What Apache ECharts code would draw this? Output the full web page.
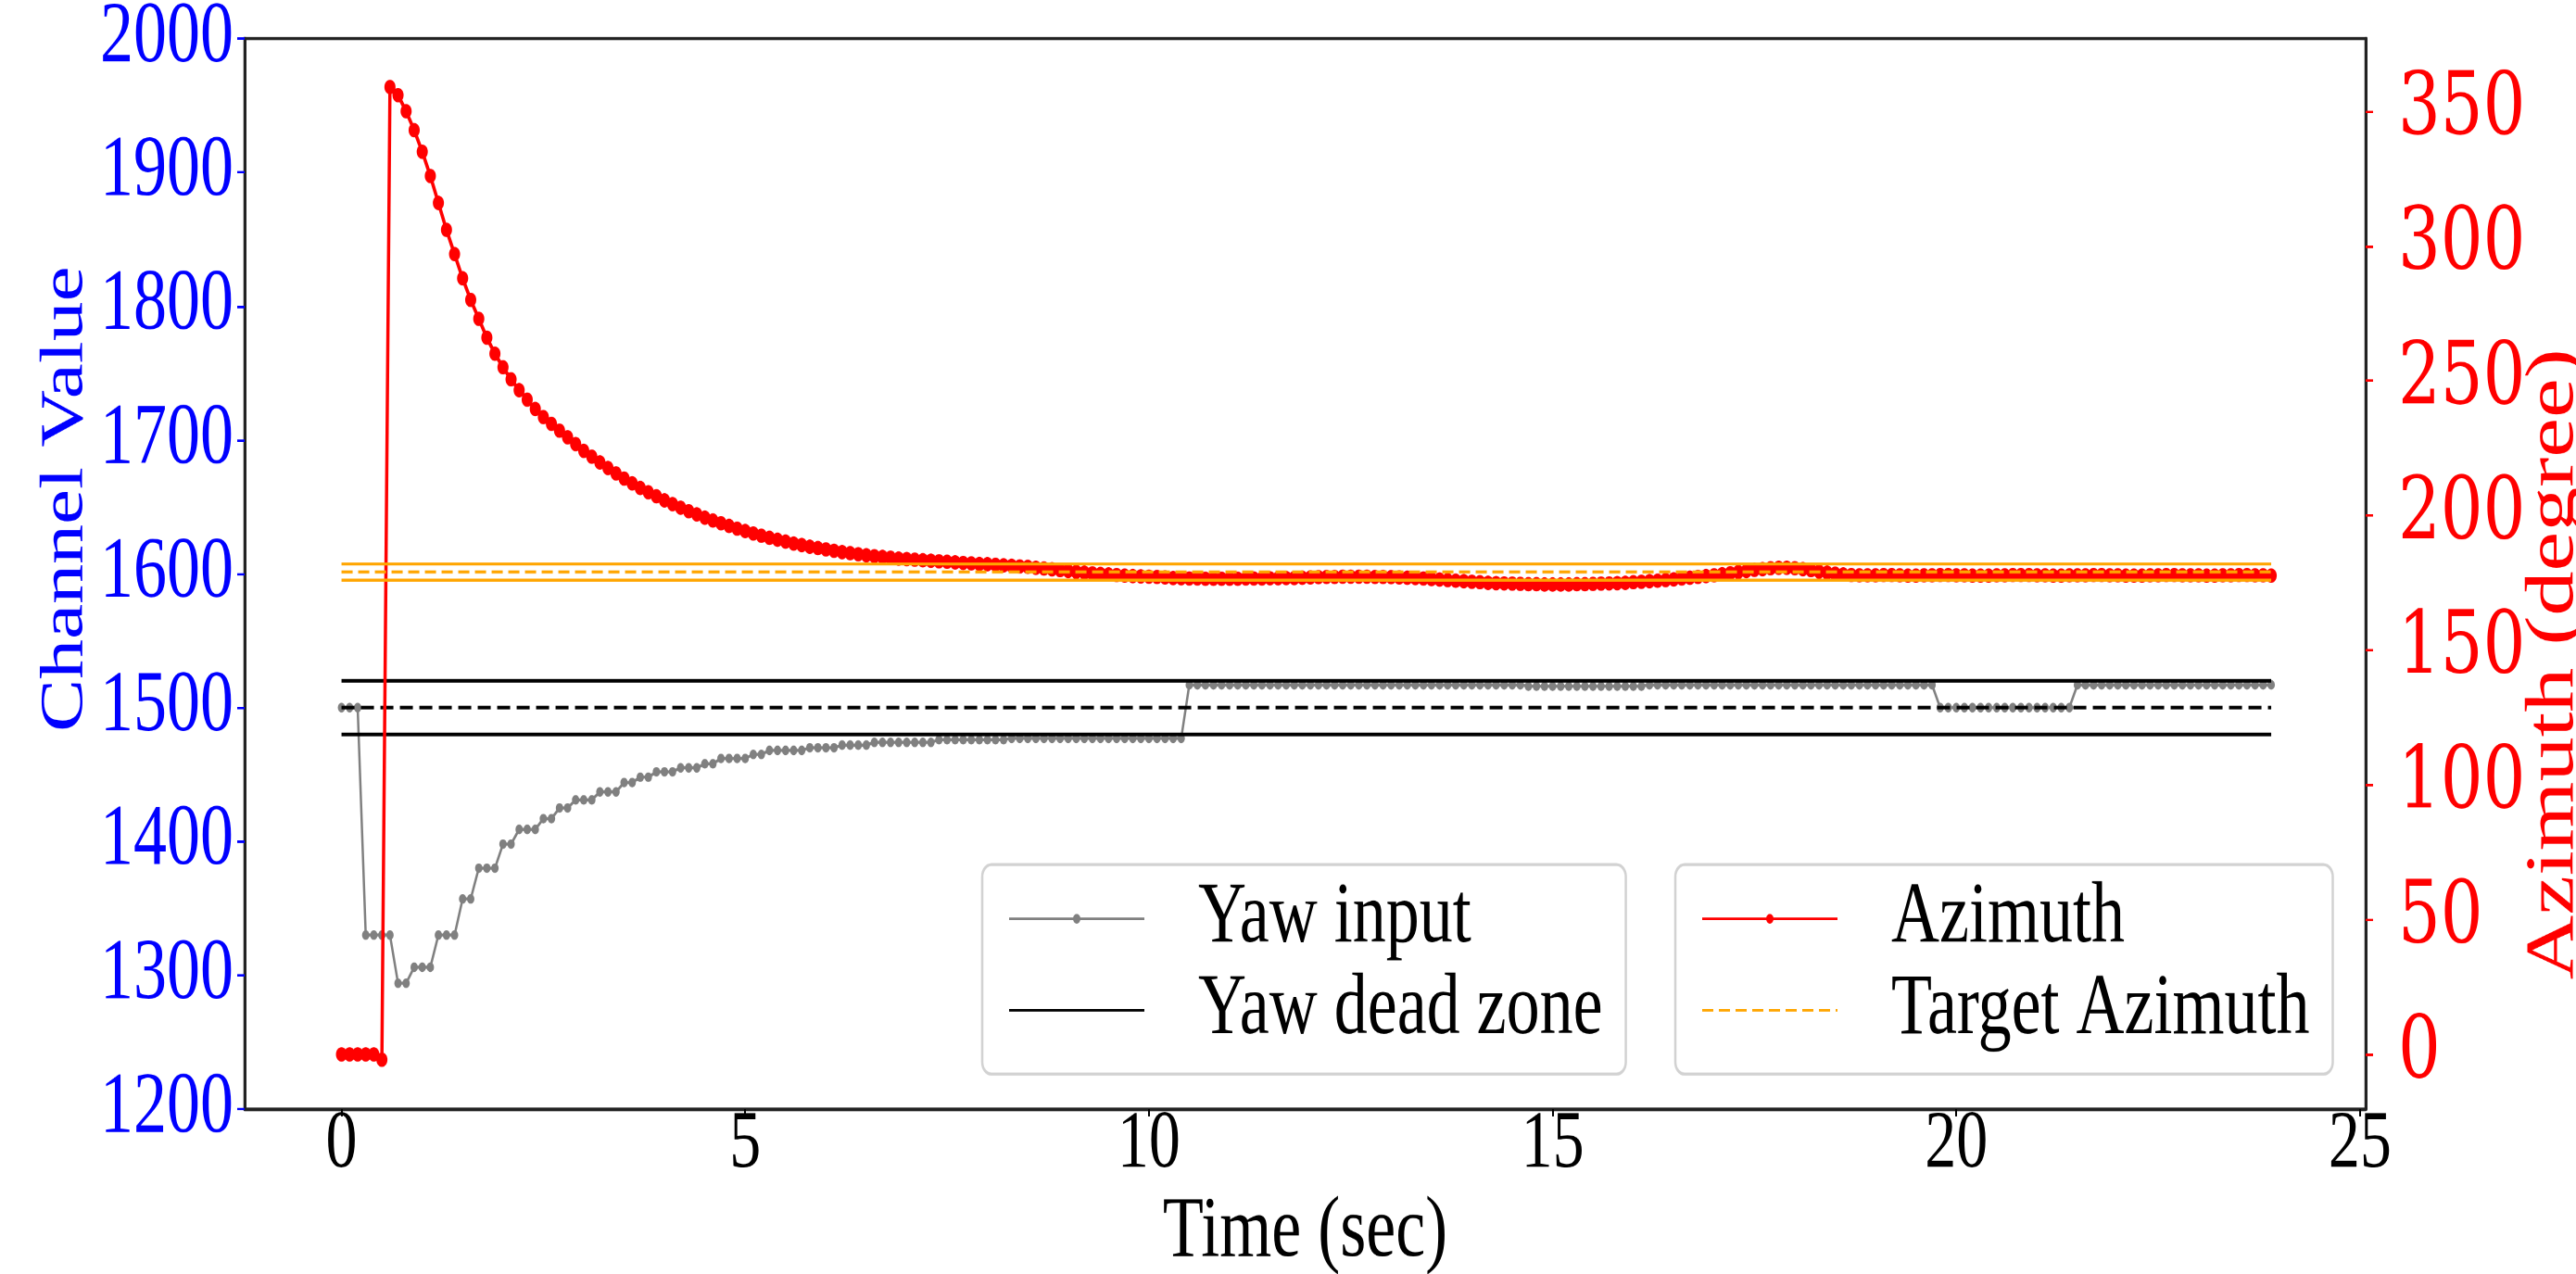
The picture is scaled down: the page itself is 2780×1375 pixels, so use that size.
<!DOCTYPE html>
<html>
<head>
<meta charset="utf-8">
<title>Yaw input and azimuth</title>
<script src="https://cdn.jsdelivr.net/npm/echarts@6/dist/echarts.min.js"></script>
<style>
  html, body { margin: 0; padding: 0; background: #fff; width: 2780px; height: 1375px; overflow: hidden; }
  /* the source figure is stretched vertically, so the chart is drawn
     at a lower height and scaled up in y only */
  #chart { width: 2780px; height: 1058px; transform-origin: 0 0; transform: scale(1, 1.29962); }
</style>
</head>
<body>
<div id="chart"></div>
<script>
// logged at 10 Hz, one sample per 0.1 s
const SAMPLE_DT = 0.1

// yaw stick input (channel value)
const yawInput = [
  1500,1500,1500,1330,1330,1330,1330,1294,1294,1306,
  1306,1306,1330,1330,1330,1357,1357,1380,1380,1380,
  1398,1398,1409,1409,1409,1417,1417,1425,1425,1431,
  1431,1431,1437,1437,1437,1444,1444,1448,1448,1452,
  1452,1452,1455,1455,1455,1458,1458,1462,1462,1462,
  1462,1465,1465,1468,1468,1468,1468,1468,1470,1470,
  1470,1470,1472,1472,1472,1472,1474,1474,1474,1474,
  1474,1474,1474,1474,1476,1476,1476,1476,1476,1476,
  1476,1476,1476,1477,1477,1477,1477,1477,1477,1477,
  1477,1477,1477,1477,1477,1477,1477,1477,1477,1477,
  1477,1477,1477,1477,1477,1517,1517,1517,1517,1517,
  1517,1517,1517,1517,1517,1517,1517,1517,1517,1517,
  1517,1517,1517,1517,1517,1517,1517,1517,1517,1517,
  1517,1517,1517,1517,1517,1517,1517,1517,1517,1517,
  1517,1517,1517,1517,1517,1517,1517,1516,1516,1516,
  1516,1516,1516,1516,1516,1516,1516,1516,1516,1516,
  1516,1516,1517,1517,1517,1517,1517,1517,1517,1517,
  1517,1517,1517,1517,1517,1517,1517,1517,1517,1517,
  1517,1517,1517,1517,1517,1517,1517,1517,1517,1517,
  1517,1517,1517,1517,1517,1517,1517,1517,1500,1500,
  1500,1500,1500,1500,1500,1500,1500,1500,1500,1500,
  1500,1500,1500,1500,1500,1517,1517,1517,1517,1517,
  1517,1517,1517,1517,1517,1517,1517,1517,1517,1517,
  1517,1517,1517,1517,1517,1517,1517,1517,1517,1517
]

// measured azimuth (degree)
const azimuth = [
  0,0,0,0,0,-2,359,356,350,343,
  335,326,316,306,297,288,280,273,266,260,
  255,250.5,246.5,243,239.5,236.5,234,231.5,229,226.5,
  224,221.8,219.7,217.6,215.6,213.7,211.9,210.2,208.6,207.1,
  205.6,204.2,202.9,201.6,200.4,199.2,198.1,197.1,196.1,195.1,
  194.2,193.3,192.5,191.7,191,190.3,189.6,189,188.4,187.9,
  187.4,186.9,186.4,186,185.6,185.2,184.9,184.6,184.3,184,
  183.8,183.6,183.4,183.2,183,182.8,182.6,182.4,182.2,182,
  181.9,181.7,181.5,181.3,181.1,180.9,180.6,180.3,180,179.7,
  179.4,179.1,178.8,178.5,178.3,178.1,177.9,177.7,177.5,177.4,
  177.3,177.2,177.0,176.8,176.7,176.6,176.6,176.5,176.5,176.5,
  176.5,176.5,176.6,176.6,176.6,176.7,176.7,176.8,176.8,176.9,
  177.0,177.1,177.2,177.2,177.3,177.3,177.3,177.3,177.2,177.2,
  177.1,177.0,176.9,176.8,176.6,176.4,176.2,176.0,175.8,175.6,
  175.4,175.2,175.0,174.9,174.8,174.7,174.6,174.5,174.5,174.4,
  174.4,174.4,174.4,174.5,174.5,174.6,174.7,174.8,174.9,175.0,
  175.2,175.4,175.6,175.8,176.0,176.3,176.6,176.9,177.2,177.5,
  177.8,178.2,178.6,179.0,179.4,179.8,180.1,180.4,180.6,180.6,
  180.4,180.1,179.7,179.2,178.8,178.4,178.1,177.9,177.8,177.8,
  177.8,177.9,177.9,177.8,177.7,177.7,177.8,177.8,177.9,177.9,
  177.8,177.8,177.7,177.7,177.7,177.8,177.8,177.9,177.9,177.9,
  177.8,177.8,177.7,177.7,177.8,177.8,177.8,177.9,177.9,177.8,
  177.8,177.7,177.7,177.7,177.8,177.8,177.9,177.9,177.8,177.8,
  177.8,177.7,177.7,177.8,177.8,177.9,177.9,177.8,177.8,177.7
]

const time = yawInput.map((v, i) => +(i * SAMPLE_DT).toFixed(1))

// dead zone around neutral stick, and target azimuth with its band
const deadZone = [1480, 1520]
const neutral = 1500
const targetAzimuth = 179
const targetBand = [176, 182]

const xTicks = [0, 5, 10, 15, 20, 25]
const azTicks = [0, 50, 100, 150, 200, 250, 300, 350]

const SERIF = 'Liberation Serif'
const FS = 72

const tStart = time[0]
const tEnd = time[time.length - 1]
const flat = (v) => [[tStart, v], [tEnd, v]]
const pair = (arr) => arr.map((v, i) => [time[i], v])

const chart = echarts.init(document.getElementById('chart'), null, { devicePixelRatio: 2 })

const legendBox = {
  orient: 'vertical',
  top: 718,
  padding: [9, 25, 17, 28],
  itemGap: 4,
  itemWidth: 146,
  itemHeight: 10,
  backgroundColor: '#fff',
  borderColor: '#d2d2d2',
  borderWidth: 2.5,
  borderRadius: 10,
  textStyle: { fontFamily: SERIF, fontSize: FS, color: '#000', padding: [0, 0, 0, 53] }
}
// plain lines in the legend, no dot in the middle
const noDot = { color: 'rgba(0,0,0,0)', borderWidth: 0 }

const option = {
  animation: false,
  backgroundColor: '#fff',
  grid: {
    left: 264, right: 227, top: 32, bottom: 137,
    show: true, borderColor: '#222', borderWidth: 2.5,
    outerBoundsMode: 'none'
  },
  legend: [
    Object.assign({}, legendBox, {
      left: 1060,
      data: ['Yaw input', { name: 'Yaw dead zone', itemStyle: noDot }]
    }),
    Object.assign({}, legendBox, {
      left: 1808,
      data: ['Azimuth', { name: 'Target Azimuth', itemStyle: noDot }]
    })
  ],
  xAxis: {
    type: 'value',
    min: -1.2,
    max: 25.07,
    name: 'Time (sec)',
    nameLocation: 'middle',
    nameGap: 67,
    nameMoveOverlap: false,
    nameTextStyle: { fontFamily: SERIF, fontSize: FS, color: '#000' },
    axisLine: { onZero: false, lineStyle: { color: '#222', width: 2.5 } },
    axisTick: { length: 6, lineStyle: { color: '#000', width: 2 }, customValues: xTicks },
    axisLabel: { customValues: xTicks, fontFamily: SERIF, fontSize: 68, color: '#000', margin: -4 },
    splitLine: { show: false }
  },
  yAxis: [
    {
      type: 'value',
      position: 'left',
      min: 1200,
      max: 2000,
      interval: 100,
      name: 'Channel Value',
      nameLocation: 'middle',
      nameRotate: 90,
      nameGap: 160,
      nameMoveOverlap: false,
      nameTextStyle: { fontFamily: SERIF, fontSize: 66, color: '#0000ff', padding: [0, 0, 0, 124] },
      axisLine: { show: true, onZero: false, lineStyle: { color: '#222', width: 3 } },
      axisTick: { show: true, length: 8, lineStyle: { color: '#0000ff', width: 2 } },
      axisLabel: {
        fontFamily: SERIF, fontSize: FS, color: '#0000ff', margin: 12,
        formatter: (v) => String(v)
      },
      splitLine: { show: false }
    },
    {
      type: 'value',
      position: 'right',
      min: -20.3,
      max: 377,
      name: 'Azimuth (degree)',
      nameLocation: 'middle',
      nameRotate: 90,
      nameGap: 167,
      nameMoveOverlap: false,
      nameTextStyle: { fontFamily: SERIF, fontSize: 74, color: '#ff0000', padding: [0, 150, 0, 0] },
      axisLine: { show: true, onZero: false, lineStyle: { color: '#222', width: 3 } },
      axisTick: { show: true, length: 8, lineStyle: { color: '#ff0000', width: 2 }, customValues: azTicks },
      axisLabel: {
        customValues: azTicks, fontFamily: 'DejaVu Serif', fontSize: FS, color: '#ff0000', margin: 35,
        formatter: (v) => String(v)
      },
      splitLine: { show: false }
    }
  ],
  series: [
    {
      name: 'Yaw input', type: 'line', yAxisIndex: 0,
      data: pair(yawInput),
      color: '#808080',
      lineStyle: { width: 2.5 },
      symbol: 'circle', symbolSize: 8, showSymbol: true, z: 2
    },
    {
      name: 'Yaw dead zone', type: 'line', yAxisIndex: 0,
      data: flat(deadZone[1]), color: '#000',
      lineStyle: { width: 3 }, symbol: 'none', z: 3
    },
    {
      name: 'Yaw dead zone', type: 'line', yAxisIndex: 0,
      data: flat(deadZone[0]), color: '#000',
      lineStyle: { width: 3 }, symbol: 'none', z: 3
    },
    {
      name: 'Yaw dead zone', type: 'line', yAxisIndex: 0,
      data: flat(neutral), color: '#000',
      lineStyle: { width: 3, type: [14, 7] }, symbol: 'none', z: 3
    },
    {
      name: 'Azimuth', type: 'line', yAxisIndex: 1,
      data: pair(azimuth),
      color: '#ff0000',
      lineStyle: { width: 3.5 },
      symbol: 'circle', symbolSize: 12, showSymbol: true, z: 4
    },
    {
      name: 'Target Azimuth', type: 'line', yAxisIndex: 1,
      data: flat(targetAzimuth), color: '#ffa500',
      lineStyle: { width: 2.5, type: [12, 6] }, symbol: 'none', z: 5
    },
    {
      name: 'Target Azimuth', type: 'line', yAxisIndex: 1,
      data: flat(targetBand[1]), color: '#ffa500',
      lineStyle: { width: 2.5 }, symbol: 'none', z: 5
    },
    {
      name: 'Target Azimuth', type: 'line', yAxisIndex: 1,
      data: flat(targetBand[0]), color: '#ffa500',
      lineStyle: { width: 2.5 }, symbol: 'none', z: 5
    }
  ]
}

chart.setOption(option)
</script>
</body>
</html>
